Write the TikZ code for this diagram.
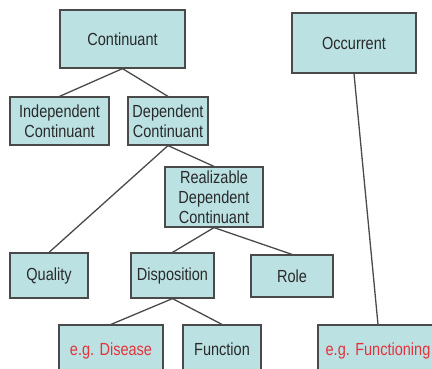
\documentclass[tikz,border=0pt]{standalone}
\usepackage{fontspec}
\setmainfont{Liberation Sans}[FakeStretch=0.83]
\definecolor{boxfill}{HTML}{BBE1E3}
\definecolor{boxline}{HTML}{4A4A4A}
\definecolor{txt}{HTML}{2A2A2A}
\definecolor{example}{HTML}{E5333B}
\newcommand{\baseonly}[1]{\raisebox{0pt}[0pt][0pt]{#1}}
\begin{document}
\begin{tikzpicture}[x=1pt,y=-1pt,
  cls/.style={draw=boxline, line width=1.2pt, fill=boxfill, text=txt,
    align=center, inner sep=0pt, font=\fontsize{17.5}{20}\selectfont},
  eg/.style={cls, text=example},
  link/.style={draw=boxline, line width=1.3pt}]
\useasboundingbox (0,0) rectangle (432,368);
\clip (0,0) rectangle (432,368);

% upper classes
\node[cls, minimum width=125pt, minimum height=58pt] (cont) at (122.5,39) {Continuant};
\node[cls, minimum width=124pt, minimum height=60pt] (occ) at (354,43) {Occurrent};
\node[cls, minimum width=99pt, minimum height=48pt] (indep) at (59.5,121) {Independent\\Continuant};
\node[cls, minimum width=80pt, minimum height=48pt] (dep) at (168,121) {Dependent\\Continuant};
\node[cls, minimum width=98pt, minimum height=60pt] (real) at (214,197) {Realizable\\Dependent\\Continuant};

% dependent continuants
\node[cls, minimum width=78pt, minimum height=45pt] (qual) at (49,275.5) {Quality};
\node[cls, minimum width=83pt, minimum height=45pt] (disp) at (172.5,275.5) {Disposition};
\node[cls, minimum width=82pt, minimum height=42pt] (role) at (292,276) {Role};

% examples along the bottom row (boxes run past the lower edge)
\node[eg, minimum width=104pt, minimum height=60pt] (dis) at (111,355) {\baseonly{e.g. Disease}};
\node[cls, minimum width=78pt, minimum height=60pt] (func) at (222,355) {\baseonly{Function}};
\node[eg, minimum width=120pt, minimum height=60pt] (fng) at (378,355) {\baseonly{e.g. Functioning}};

% is-a links
\draw[link] (cont.south) -- (indep.north);
\draw[link] (cont.south) -- (dep.north);
\draw[link] (dep.south) -- (qual.north);
\draw[link] (dep.south) -- (real.north);
\draw[link] (real.south) -- (disp.north);
\draw[link] (real.south) -- (role.north);
\draw[link] (disp.south) -- (dis.north);
\draw[link] (disp.south) -- (func.north);
\draw[link] (occ.south) -- (fng.north);
\end{tikzpicture}
\end{document}
